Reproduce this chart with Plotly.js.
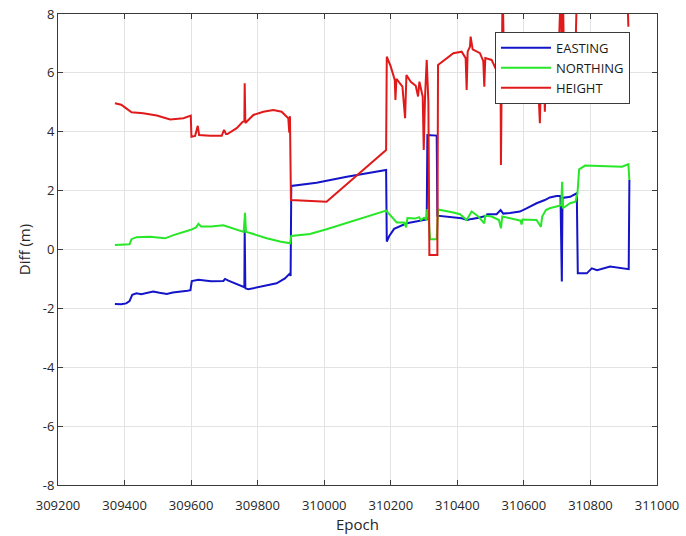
<!DOCTYPE html>
<html>
<head>
<meta charset="utf-8">
<script src="https://cdn.plot.ly/plotly-3.0.1.min.js"></script>
<style>
  html, body { margin: 0; padding: 0; background: #ffffff; }
  #plot { width: 686px; height: 536px; }
</style>
</head>
<body>
<div id="plot"></div>
<script>
// Position differences per epoch (metres)
const eastingEpoch = [309371,309390,309405,309415,309423,309436,309450,309470,309486,309505,309527,309545,309557,309575,309589,309598,309602,309622,309640,309660,309697,309702,309712,309737,309755,309760,309761,309763,309772,309800,309827,309857,309882,309892,309897,309899,309901,309977,310068,310186,310188,310195,310210,310248,310288,310308,310310,310338,310340,310388,310413,310430,310443,310465,310488,310490,310518,310530,310538,310558,310588,310608,310638,310663,310678,310698,310710,310714,310716,310739,310759,310762,310789,310804,310820,310859,310889,310915,310917];
const easting = [-1.85,-1.86,-1.83,-1.75,-1.54,-1.49,-1.52,-1.47,-1.43,-1.47,-1.51,-1.46,-1.45,-1.42,-1.40,-1.38,-1.07,-1.03,-1.05,-1.08,-1.07,-1.00,-1.06,-1.17,-1.26,-1.28,0.66,-1.32,-1.35,-1.28,-1.20,-1.15,-0.98,-0.85,-0.81,-0.90,2.16,2.27,2.47,2.70,0.27,0.45,0.70,0.89,0.99,1.02,3.89,3.87,1.15,1.10,1.06,1.00,1.04,1.08,1.15,1.20,1.20,1.34,1.22,1.24,1.29,1.40,1.57,1.68,1.77,1.82,1.82,-1.09,1.75,1.79,1.91,-0.81,-0.81,-0.64,-0.70,-0.58,-0.64,-0.67,2.36];

const northingEpoch = [309371,309400,309415,309421,309436,309476,309500,309522,309547,309575,309597,309615,309622,309630,309660,309697,309710,309737,309758,309762,309765,309780,309827,309867,309898,309901,309957,310007,310186,310218,310240,310246,310250,310273,310285,310290,310300,310306,310310,310314,310318,310338,310342,310388,310408,310428,310443,310463,310481,310484,310503,310525,310531,310535,310558,310590,310593,310596,310638,310651,310655,310666,310678,310698,310712,310715,310717,310739,310755,310761,310766,310784,310809,310859,310895,310914,310917];
const northing = [0.15,0.17,0.18,0.35,0.42,0.43,0.40,0.38,0.49,0.58,0.66,0.75,0.87,0.78,0.78,0.82,0.77,0.66,0.60,1.25,0.60,0.55,0.38,0.27,0.21,0.46,0.53,0.69,1.32,0.92,0.92,0.75,1.07,1.05,1.10,1.00,1.08,1.03,1.37,1.05,0.35,0.35,1.36,1.26,1.20,1.00,1.29,1.12,0.89,1.15,1.12,1.00,0.72,1.12,1.06,0.98,0.85,1.02,1.00,0.77,1.12,1.34,1.40,1.46,1.50,2.30,1.40,1.57,1.62,1.91,2.72,2.85,2.84,2.81,2.81,2.90,2.36];

const heightEpoch = [309371,309390,309401,309421,309456,309497,309537,309577,309599,309601,309612,309620,309624,309657,309692,309699,309705,309709,309737,309755,309760,309761,309763,309772,309787,309817,309847,309872,309892,309895,309897,309900,310007,310186,310188,310200,310212,310214,310217,310235,310243,310247,310260,310275,310282,310286,310296,310299,310303,310308,310313,310316,310340,310342,310388,310413,310425,310428,310431,310438,310440,310446,310468,310478,310481,310484,310503,310515,310530,310531,310533,310536,310540,310545,310585,310592,310596,310640,310648,310652,310660,310663,310667,310705,310711,310714,310717,310720,310755,310760,310910,310914];
const height = [4.97,4.92,4.83,4.66,4.63,4.55,4.42,4.46,4.55,3.83,3.86,4.20,3.89,3.86,3.86,4.06,3.92,3.92,4.12,4.34,4.36,5.65,4.30,4.40,4.57,4.68,4.74,4.68,4.46,3.97,4.53,1.68,1.62,3.38,6.55,6.21,5.76,5.08,5.80,5.53,4.46,5.93,5.70,5.56,5.20,5.70,5.19,3.38,5.20,6.44,5.00,-0.19,-0.19,6.27,6.67,6.72,6.50,5.42,6.72,6.89,7.23,6.80,6.67,6.40,5.53,6.50,6.44,6.15,5.90,2.87,5.50,9.00,6.50,6.60,6.50,5.08,6.50,6.40,4.29,6.30,6.00,4.68,6.30,6.80,9.00,6.80,9.00,6.80,6.80,9.00,9.00,7.57];

const seriesNames = ['EASTING', 'NORTHING', 'HEIGHT'];
const xTicks = [309200,309400,309600,309800,310000,310200,310400,310600,310800,311000];
const yTicks = [-8,-6,-4,-2,0,2,4,6,8];

const colors = ['#1414c8', '#28e628', '#e01a1a'];
const xs = [eastingEpoch, northingEpoch, heightEpoch];
const ys = [easting, northing, height];

const traces = seriesNames.map((name, i) => ({
  type: 'scatter',
  mode: 'lines',
  name: name,
  x: xs[i],
  y: ys[i],
  line: { color: colors[i], width: 2 }
}));

const axisCommon = {
  showgrid: true,
  gridcolor: '#e3e3e3',
  gridwidth: 1,
  zeroline: false,
  showline: true,
  linecolor: '#3a3a3a',
  linewidth: 1,
  mirror: 'ticks',
  ticks: 'inside',
  ticklen: 5,
  tickcolor: '#3a3a3a',
  tickfont: { family: 'Open Sans, sans-serif', size: 13, color: '#262626' }
};

const layout = {
  width: 686,
  height: 536,
  margin: { l: 58, r: 29, t: 14, b: 51 },
  paper_bgcolor: '#ffffff',
  plot_bgcolor: '#ffffff',
  showlegend: true,
  xaxis: Object.assign({}, axisCommon, {
    range: [309200, 311000],
    tickvals: xTicks,
    ticktext: xTicks.map(String),
    ticklabelstandoff: 8,
    title: { text: 'Epoch', font: { family: 'Open Sans, sans-serif', size: 15, color: '#262626' }, standoff: 4 }
  }),
  yaxis: Object.assign({}, axisCommon, {
    range: [-8, 8],
    tickvals: yTicks,
    ticktext: yTicks.map(String),
    title: { text: 'Diff (m)', font: { family: 'Open Sans, sans-serif', size: 15, color: '#262626' }, standoff: 8 }
  }),
  legend: {
    x: 0.7295, y: 0.962, xanchor: 'left', yanchor: 'top',
    bgcolor: '#ffffff',
    bordercolor: '#3a3a3a',
    borderwidth: 1,
    itemwidth: 50,
    tracegroupgap: 0,
    font: { family: 'Open Sans, sans-serif', size: 13, color: '#1a1a1a' }
  }
};

Plotly.newPlot('plot', traces, layout, { staticPlot: true, displayModeBar: false });
</script>
</body>
</html>
